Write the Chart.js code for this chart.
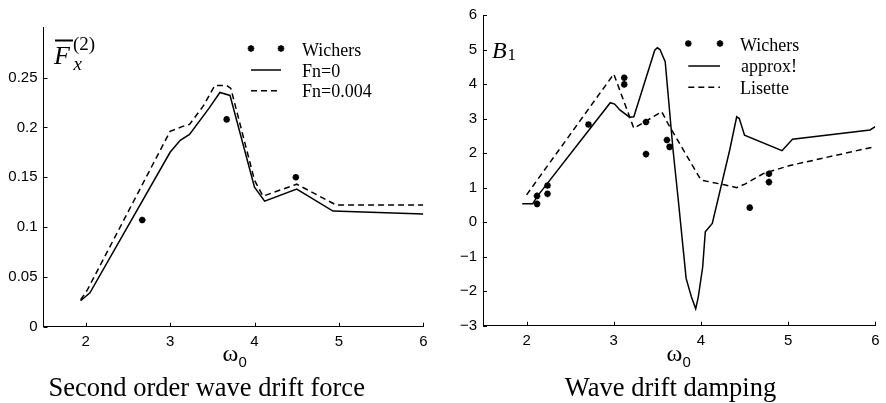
<!DOCTYPE html>
<html>
<head>
<meta charset="utf-8">
<script src="https://cdn.jsdelivr.net/npm/chart.js@4.4.1/dist/chart.umd.min.js"></script>
<style>
  html, body { margin: 0; padding: 0; background: #fff; }
  #wrap { position: relative; width: 886px; height: 403px; }
  .panel { position: absolute; top: 0; width: 443px; height: 403px; }
</style>
</head>
<body>
<div id="wrap">
  <div class="panel" style="left:0"><canvas id="kraft"></canvas></div>
  <div class="panel" style="left:443px"><canvas id="daempning"></canvas></div>
</div>
<script>
/* venstre panel: second order wave drift force */
const kraftOmegaFn0 = [1.94, 2.05, 3.0, 3.12, 3.23, 3.46, 3.59, 3.71, 4.0, 4.12, 4.5, 4.93, 6.0];
const kraftFn0 = [0.026, 0.034, 0.175, 0.187, 0.193, 0.219, 0.235, 0.232, 0.140, 0.126, 0.138, 0.116, 0.113];
const kraftOmegaFn004 = [1.94, 2.02, 3.0, 3.15, 3.23, 3.39, 3.53, 3.67, 3.72, 4.0, 4.1, 4.5, 4.97, 6.0];
const kraftFn004 = [0.027, 0.037, 0.196, 0.201, 0.203, 0.221, 0.242, 0.242, 0.239, 0.147, 0.131, 0.143, 0.122, 0.122];
const kraftOmegaWichers = [2.67, 3.67, 4.49];
const kraftWichers = [0.107, 0.208, 0.150];
const kraftYTicks = [0, 0.05, 0.1, 0.15, 0.2, 0.25];

/* højre panel: wave drift damping */
const daempOmegaApprox = [1.95, 2.07, 2.12, 2.96, 3.01, 3.07, 3.18, 3.23, 3.47, 3.5, 3.53, 3.59, 3.68, 3.74, 3.83, 3.89, 3.94, 3.97, 4.02, 4.05, 4.13, 4.33, 4.41, 4.44, 4.5, 4.93, 5.05, 5.94, 6.0];
const daempApprox = [0.53, 0.53, 0.74, 3.46, 3.42, 3.25, 3.04, 3.05, 4.98, 5.05, 5.0, 4.65, 2.09, 0.64, -1.63, -2.16, -2.51, -2.16, -1.30, -0.28, -0.04, 2.09, 3.05, 3.0, 2.52, 2.07, 2.40, 2.67, 2.77];
const daempOmegaLisette = [2.0, 3.0, 3.23, 3.36, 3.55, 3.62, 4.0, 4.27, 4.41, 4.51, 4.72, 5.02, 6.0];
const daempLisette = [0.79, 4.29, 2.72, 2.91, 3.20, 2.86, 1.22, 1.08, 1.0, 1.11, 1.41, 1.64, 2.19];
const daempOmegaWichers = [2.12, 2.12, 2.24, 2.24, 2.71, 3.12, 3.12, 3.37, 3.37, 3.61, 3.64, 4.56, 4.78, 4.78];
const daempWichers = [0.76, 0.53, 1.06, 0.82, 2.83, 4.18, 3.99, 2.90, 1.97, 2.38, 2.18, 0.42, 1.40, 1.16];
const daempYTicks = [-3, -2, -1, 0, 1, 2, 3, 4, 5, 6];

const xTicks = [2, 3, 4, 5, 6];

const serif = '"Liberation Serif", "Times New Roman", serif';
const sans = '"Liberation Sans", Arial, sans-serif';

function punkter(xs, ys) {
    const ud = [];
    for (let i = 0; i < xs.length; i++) ud.push({ x: xs[i], y: ys[i] });
    return ud;
}

function linje(label, xs, ys, stiplet) {
    return {
        label: label,
        data: punkter(xs, ys),
        borderColor: '#000',
        borderWidth: 1.5,
        borderDash: stiplet ? [6, 4] : [],
        pointRadius: 0,
        tension: 0,
        fill: false
    };
}

function maalinger(label, xs, ys) {
    return {
        label: label,
        data: punkter(xs, ys),
        showLine: false,
        pointStyle: 'star',
        pointRadius: 3.3,
        borderWidth: 2,
        borderColor: '#000',
        backgroundColor: '#000'
    };
}

/* små tick-streger der peger ind i plottet, som i MATLAB */
const indadTicks = {
    id: 'indadTicks',
    afterDraw(chart) {
        const { ctx, chartArea, scales } = chart;
        ctx.save();
        ctx.strokeStyle = '#000';
        ctx.lineWidth = 1;
        ctx.beginPath();
        scales.x.ticks.forEach(t => {
            const px = Math.round(scales.x.getPixelForValue(t.value)) + 0.5;
            ctx.moveTo(px, chartArea.bottom);
            ctx.lineTo(px, chartArea.bottom - 4);
        });
        scales.y.ticks.forEach(t => {
            const py = Math.round(scales.y.getPixelForValue(t.value)) + 0.5;
            ctx.moveTo(chartArea.left, py);
            ctx.lineTo(chartArea.left + 4, py);
        });
        ctx.stroke();
        ctx.restore();
    }
};

/* legende, akse-titler og billedtekst tegnes her */
const tekster = {
    id: 'tekster',
    afterDraw(chart, args, opt) {
        const ctx = chart.ctx;
        ctx.save();
        ctx.fillStyle = '#000';
        ctx.strokeStyle = '#000';

        /* legende */
        const lg = opt.legende;
        chart.data.datasets.forEach((ds, i) => {
            const y = lg.raekker[i];
            if (ds.showLine === false) {
                const p = { pointStyle: 'star', radius: 3.3, borderWidth: 2, rotation: 0 };
                ctx.lineWidth = 2;
                Chart.helpers.drawPoint(ctx, p, lg.x0, y);
                Chart.helpers.drawPoint(ctx, p, lg.x1, y);
            } else {
                ctx.lineWidth = 1.5;
                ctx.setLineDash(ds.borderDash || []);
                ctx.beginPath();
                ctx.moveTo(lg.x0, y);
                ctx.lineTo(lg.x1, y);
                ctx.stroke();
                ctx.setLineDash([]);
            }
            ctx.font = '18px ' + serif;
            ctx.textAlign = 'left';
            ctx.textBaseline = 'alphabetic';
            ctx.fillText(ds.label, lg.tekstX[i], lg.baselinjer[i]);
        });

        /* y-akse-etiket */
        const yl = opt.yEtiket;
        ctx.textAlign = 'left';
        ctx.textBaseline = 'alphabetic';
        ctx.font = 'italic ' + yl.str + 'px ' + serif;
        ctx.fillText(yl.tegn, yl.x, yl.y);
        if (yl.streg) {
            ctx.fillRect(yl.streg[0], yl.streg[1], yl.streg[2], 2);
        }
        if (yl.sub) {
            ctx.font = yl.sub.font;
            ctx.fillText(yl.sub.tekst, yl.sub.x, yl.sub.y);
        }
        if (yl.sup) {
            ctx.font = yl.sup.font;
            ctx.fillText(yl.sup.tekst, yl.sup.x, yl.sup.y);
        }

        /* x-akse-titel: omega med sænket 0 */
        const xt = opt.xTitel;
        ctx.font = '24px ' + serif;
        ctx.fillText('ω', xt.x, xt.y);
        ctx.font = '15px ' + sans;
        ctx.fillText('0', xt.x + 16, xt.y + 6.5);

        /* billedtekst under plottet */
        ctx.font = '26.5px ' + serif;
        ctx.textAlign = 'center';
        ctx.fillText(opt.billedtekst.tekst, opt.billedtekst.x, opt.billedtekst.y);
        ctx.restore();
    }
};

function lavGraf(canvasId, datasets, yMin, yMax, yTicks, layout, teksterOpt) {
    return new Chart(document.getElementById(canvasId), {
        type: 'line',
        data: { datasets: datasets },
        options: {
            responsive: true,
            maintainAspectRatio: false,
            animation: false,
            layout: { padding: { top: layout.top, right: layout.right, bottom: 0, left: 0 } },
            plugins: {
                legend: { display: false },
                tooltip: { enabled: false },
                tekster: teksterOpt
            },
            scales: {
                x: {
                    type: 'linear',
                    min: 1.5,
                    max: 6,
                    afterBuildTicks: (s) => { s.ticks = xTicks.map(v => ({ value: v })); },
                    afterFit: (s) => { s.height = layout.xHoejde; },
                    grid: { display: false, drawTicks: false },
                    border: { display: true, color: '#000', width: 1 },
                    ticks: { color: '#000', padding: 6, maxRotation: 0, font: { family: sans, size: 15 } }
                },
                y: {
                    type: 'linear',
                    min: yMin,
                    max: yMax,
                    afterBuildTicks: (s) => { s.ticks = yTicks.map(v => ({ value: v })); },
                    afterFit: (s) => { s.width = layout.yBredde; },
                    grid: { display: false, drawTicks: false },
                    border: { display: true, color: '#000', width: 1 },
                    ticks: {
                        color: '#000',
                        padding: 6,
                        font: { family: sans, size: 15 },
                        callback: (v) => String(v).replace('-', '\u2212')
                    }
                }
            }
        },
        plugins: [indadTicks, tekster]
    });
}

lavGraf('kraft',
    [
        maalinger('Wichers', kraftOmegaWichers, kraftWichers),
        linje('Fn=0', kraftOmegaFn0, kraftFn0, false),
        linje('Fn=0.004', kraftOmegaFn004, kraftFn004, true)
    ],
    0, 0.3, kraftYTicks,
    { top: 27.7, right: 19.7, xHoejde: 76.3, yBredde: 43.5 },
    {
        legende: { x0: 251, x1: 281, raekker: [48.5, 70, 90.7], tekstX: [302, 302, 302], baselinjer: [56, 76.5, 97] },
        yEtiket: {
            tegn: 'F', str: 26, x: 54, y: 63.5,
            streg: [55, 39.5, 18],
            sub: { tekst: 'x', font: 'italic 19px ' + serif, x: 73.5, y: 69.5 },
            sup: { tekst: '(2)', font: '19px ' + serif, x: 73, y: 49.5 }
        },
        xTitel: { x: 222.5, y: 360.5 },
        billedtekst: { tekst: 'Second order wave drift force', x: 206.7, y: 395.7 }
    });

lavGraf('daempning',
    [
        maalinger('Wichers', daempOmegaWichers, daempWichers),
        linje('approx!', daempOmegaApprox, daempApprox, false),
        linje('Lisette', daempOmegaLisette, daempLisette, true)
    ],
    -3, 6, daempYTicks,
    { top: 15, right: 10.7, xHoejde: 77.3, yBredde: 40 },
    {
        legende: { x0: 245.3, x1: 277, raekker: [43.5, 66, 87.3], tekstX: [297, 298, 297], baselinjer: [51, 72, 94] },
        yEtiket: {
            tegn: 'B', str: 24, x: 49, y: 57.5,
            sub: { tekst: '1', font: '17px ' + serif, x: 64.5, y: 60 }
        },
        xTitel: { x: 223.5, y: 360.5 },
        billedtekst: { tekst: 'Wave drift damping', x: 227.5, y: 395.7 }
    });
</script>
</body>
</html>
